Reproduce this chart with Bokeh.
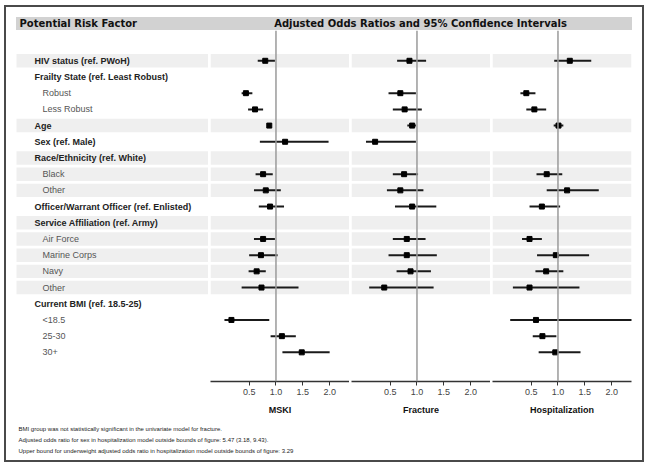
from bokeh.plotting import figure
from bokeh.models import Range1d, Span, FixedTicker, ColumnDataSource, Spacer, NumeralTickFormatter
from bokeh.layouts import row, column
from bokeh.core.properties import value
from bokeh.embed import file_html
from bokeh.resources import INLINE

# ---------------- data ----------------
factors = ["HIV status (ref. PWoH)", "Frailty State (ref. Least Robust)", "Robust", "Less Robust",
           "Age", "Sex (ref. Male)", "Race/Ethnicity (ref. White)", "Black", "Other",
           "Officer/Warrant Officer (ref. Enlisted)", "Service Affiliation (ref. Army)",
           "Air Force", "Marine Corps", "Navy", "Other", "Current BMI (ref. 18.5-25)",
           "<18.5", "25-30", "30+"]
is_group = [True, True, False, False, True, True, True, False, False, True, True,
            False, False, False, False, True, False, False, False]
shaded = [1, 0, 0, 0, 1, 0, 1, 1, 1, 0, 1, 1, 1, 1, 1, 0, 0, 0, 0]

panel_titles = ["MSKI", "Fracture", "Hospitalization"]
tick_values = [0.5, 1.0, 1.5, 2.0]

mski_or = [0.80, None, 0.44, 0.61, 0.875, 1.17, None, 0.76, 0.81, 0.89, None, 0.76, 0.72, 0.64, 0.73, None, 0.17, 1.11, 1.48]
mski_lo = [0.66, None, 0.36, 0.48, 0.85, 0.70, None, 0.62, 0.59, 0.68, None, 0.59, 0.50, 0.49, 0.36, None, 0.04, 0.90, 1.12]
mski_hi = [0.98, None, 0.56, 0.76, 0.90, 1.98, None, 0.94, 1.09, 1.15, None, 0.98, 1.03, 0.81, 1.42, None, 0.875, 1.37, 2.00]

frac_or = [0.86, None, 0.69, 0.77, 0.91, 0.22, None, 0.76, 0.69, 0.91, None, 0.81, 0.81, 0.88, 0.39, None, None, None, None]
frac_lo = [0.63, None, 0.47, 0.55, 0.82, 0.05, None, 0.55, 0.44, 0.59, None, 0.55, 0.47, 0.62, 0.11, None, None, None, None]
frac_hi = [1.17, None, 0.98, 1.09, 0.98, 0.98, None, 1.02, 1.12, 1.36, None, 1.16, 1.37, 1.26, 1.31, None, None, None, None]

hosp_or = [1.22, None, 0.41, 0.56, 1.01, None, None, 0.79, 1.17, 0.70, None, 0.47, 0.96, 0.78, 0.47, None, 0.59, 0.71, 0.95]
hosp_lo = [0.93, None, 0.30, 0.41, 0.92, None, None, 0.60, 0.79, 0.47, None, 0.33, 0.61, 0.58, 0.16, None, 0.11, 0.53, 0.64]
hosp_hi = [1.62, None, 0.58, 0.78, 1.10, None, None, 1.08, 1.76, 1.04, None, 0.70, 1.58, 1.10, 1.40, None, 3.29, 0.97, 1.42]

footnotes = [
    "BMI group was not statistically significant in the univariate model for fracture.",
    "Adjusted odds ratio for sex in hospitalization model outside bounds of figure: 5.47 (3.18, 9.43).",
    "Upper bound for underweight adjusted odds ratio in hospitalization model outside bounds of figure: 3.29",
]

# ---------------- styling ----------------
SANS_NAME = "Liberation Sans"
SANS = value(SANS_NAME)
HEAD = value("DejaVu Sans")
BAND = "#efefef"
HEADBAND = "#d2d2d2"
MID_H = 388
BOTTOM = 37
Y_RANGE = (19.80, -1.87)
X_RANGE = (-0.22, 2.37)
BAND_H = 0.83

rows = list(range(len(factors)))
shaded_rows = [i for i in rows if shaded[i]]


def base(width, height, xr, yr, **kw):
    p = figure(width=width, height=height, x_range=Range1d(*xr), y_range=Range1d(*yr),
               output_backend="svg", toolbar_location=None,
               x_axis_location=kw.pop("x_axis_location", None), y_axis_location=None,
               min_border_left=0, min_border_right=kw.pop("mbr", 0), min_border_top=0,
               min_border_bottom=kw.pop("mbb", 0), **kw)
    p.outline_line_color = None
    p.background_fill_color = "white"
    p.border_fill_color = "white"
    p.xgrid.visible = False
    p.ygrid.visible = False
    return p


# ---- header ----
H = base(636, 23, (6, 642), (30, 7))
H.quad(left=15.5, right=631.5, top=16.5, bottom=30, fill_color=HEADBAND, line_color=None)
H.text(x=[19], y=[23.4], text=["Potential Risk Factor"], text_font=HEAD, text_font_style="bold",
       text_font_size="10px", text_align="left", text_baseline="middle", text_color="#111")
H.text(x=[420], y=[23.4], text=["Adjusted Odds Ratios and 95% Confidence Intervals"], text_font=HEAD,
       text_font_style="bold", text_font_size="10px", text_align="center", text_baseline="middle",
       text_color="#111")

# ---- labels column ----
L = base(202, MID_H, (6, 208), Y_RANGE, mbb=BOTTOM)
L.hbar(y=shaded_rows, height=BAND_H, left=16, right=208, fill_color=BAND, line_color=None)
g_rows = [i for i in rows if is_group[i]]
s_rows = [i for i in rows if not is_group[i]]
L.text(x=[34] * len(g_rows), y=g_rows, text=[factors[i] for i in g_rows], text_font=SANS,
       text_font_style="bold", text_font_size="9px", text_align="left", text_baseline="middle",
       text_color="#222")
L.text(x=[42] * len(s_rows), y=s_rows, text=[factors[i] for i in s_rows], text_font=SANS,
       text_font_size="9px", text_align="left", text_baseline="middle", text_color="#555")

# ---- panels ----
series = [(mski_or, mski_lo, mski_hi), (frac_or, frac_lo, frac_hi), (hosp_or, hosp_lo, hosp_hi)]
panels = []
for k, (orr, lo, hi) in enumerate(series):
    last = (k == 2)
    p = base(150 if last else 139, MID_H, X_RANGE, Y_RANGE, mbb=BOTTOM, mbr=11 if last else 0,
             x_axis_location="below")
    p.hbar(y=shaded_rows, height=BAND_H, left=-5, right=10, fill_color=BAND, line_color=None)
    p.add_layout(Span(location=1.0, dimension="height", line_color="#9a9a9a", line_width=1.5))
    idx = [i for i in rows if orr[i] is not None]
    src = ColumnDataSource(dict(y=idx, o=[orr[i] for i in idx], lo=[lo[i] for i in idx],
                                hi=[hi[i] for i in idx]))
    p.segment(x0="lo", x1="hi", y0="y", y1="y", source=src, line_color="#1a1a1a", line_width=2)
    p.scatter(x="o", y="y", source=src, marker="square", size=5, fill_color="black",
              line_color="black")
    ax = p.xaxis[0]
    ax.ticker = FixedTicker(ticks=tick_values)
    ax.formatter = NumeralTickFormatter(format="0.0")
    ax.minor_tick_line_color = None
    ax.major_tick_in = 0
    ax.major_tick_out = 4
    ax.axis_line_color = "#333"
    ax.axis_line_width = 1.5
    ax.major_tick_line_color = "#333"
    ax.major_label_text_font = SANS_NAME
    ax.major_label_text_font_size = "9px"
    ax.major_label_text_color = "#444"
    ax.major_label_standoff = 3
    ax.axis_label = panel_titles[k]
    ax.axis_label_text_font = SANS_NAME
    ax.axis_label_text_font_style = "bold"
    ax.axis_label_text_font_size = "9px"
    ax.axis_label_text_color = "#111"
    ax.axis_label_standoff = 7
    panels.append(p)

# ---- footnotes ----
F = base(636, 42, (6, 642), (460, 418))
F.text(x=[18] * 3, y=[428, 439, 450], text=footnotes, text_font=SANS,
       text_font_size="6px", text_align="left", text_baseline="middle", text_color="#222")

middle = row(L, panels[0], panels[1], panels[2], spacing=2)
inner = column(H, middle, F, spacing=0, styles={"outline": "2px solid #4a4a4a"})
page = column(Spacer(height=7), row(Spacer(width=6), inner))

open("out.html", "w").write(file_html(page, INLINE))
